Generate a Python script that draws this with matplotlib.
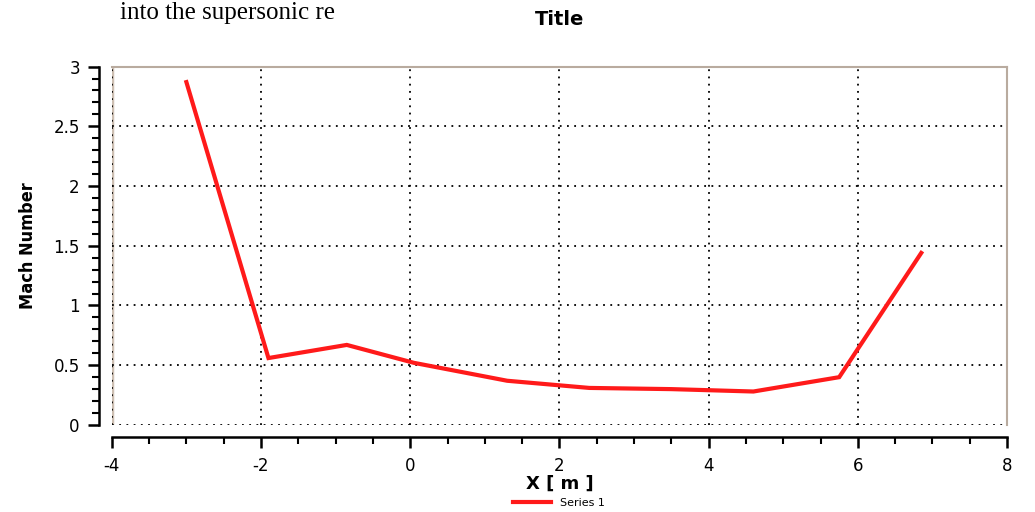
import matplotlib.pyplot as plt
from matplotlib.ticker import MultipleLocator

# datos (relativos a la cuadricula local)
x_m = [-3.0, -1.9, -0.85, 0.05, 1.3, 2.4, 3.5, 4.6, 5.75, 6.85]
mach = [2.87, 0.56, 0.67, 0.52, 0.37, 0.31, 0.30, 0.28, 0.40, 1.44]
serie = "Series 1"
titulo = "Title"
xlabel = "X [ m ]"
ylabel = "Mach Number"

plt.rcParams["axes.unicode_minus"] = False

fig = plt.figure(figsize=(10.35, 5.12), dpi=100)
ax = fig.add_axes([0.108, 0.17, 0.865, 0.70])

ax.plot(x_m, mach, color="#ff1a1a", lw=3, label=serie, solid_joinstyle="miter")

ax.set_xlim(-4, 8)
ax.set_ylim(0, 3)
ax.xaxis.set_major_locator(MultipleLocator(2))
ax.xaxis.set_minor_locator(MultipleLocator(0.5))
ax.yaxis.set_minor_locator(MultipleLocator(0.1))
ax.set_yticks([0, 0.5, 1, 1.5, 2, 2.5, 3])
ax.set_yticklabels(["0", "0.5", "1", "1.5", "2", "2.5", "3"])

ax.grid(True, which="major", color="black", linestyle=(0, (1, 3)), lw=1.3)

for s in ["top", "right"]:
    ax.spines[s].set_color("#b9ab9f")
    ax.spines[s].set_linewidth(1.5)
for s in ["left", "bottom"]:
    ax.spines[s].set_position(("outward", 9))
    ax.spines[s].set_linewidth(1.8)
ax.axvline(-4, color="#cdbfb2", lw=2.5, zorder=0)

ax.tick_params(which="major", direction="out", length=8, width=1.8, labelsize=12, pad=6)
ax.tick_params(which="minor", direction="out", length=5, width=1.5)

ax.set_title(titulo, fontsize=14, fontweight="bold", pad=30)
ax.set_xlabel(xlabel, fontsize=13, fontweight="bold", labelpad=0)
ax.set_ylabel(ylabel, fontsize=13, fontweight="bold", fontstretch="condensed",
              family=["Liberation Sans Narrow", "DejaVu Sans"], labelpad=12)

fig.legend(loc="lower center", bbox_to_anchor=(0.54, -0.012), frameon=False,
           fontsize=8, handlelength=3.5)

fig.text(0.116, 0.962, "into the supersonic re", fontsize=18,
         family=["Liberation Serif", "DejaVu Serif"], va="baseline")

fig.savefig("out.png", dpi=100)
